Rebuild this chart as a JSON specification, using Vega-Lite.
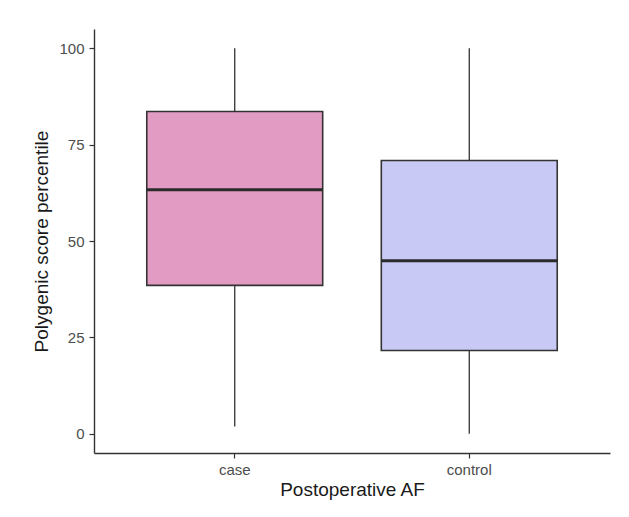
{
  "$schema": "https://vega.github.io/schema/vega-lite/v6.json",
  "autosize": "none",
  "width": 516,
  "height": 424,
  "padding": {"left": 94, "top": 29, "right": 19, "bottom": 64},
  "background": "white",
  "config": {
    "view": {"stroke": null},
    "font": "Liberation Sans",
    "axis": {
      "grid": false,
      "domainColor": "#333333",
      "domainWidth": 1.4,
      "tickColor": "#333333",
      "tickWidth": 1.2,
      "tickSize": 5,
      "labelColor": "#4D4D4D",
      "labelFont": "Liberation Sans",
      "labelFontSize": 15,
      "titleFont": "Liberation Sans",
      "titleFontSize": 19,
      "titleFontWeight": "normal",
      "titleColor": "#1A1A1A"
    }
  },
  "data": {
    "values": [
      {"group": "case", "lower": 1.9, "q1": 38.5, "median": 63.3, "q3": 83.6, "upper": 100},
      {"group": "control", "lower": 0, "q1": 21.6, "median": 44.9, "q3": 70.9, "upper": 100}
    ]
  },
  "encoding": {
    "x": {
      "field": "group",
      "type": "nominal",
      "title": "Postoperative AF",
      "scale": {"paddingInner": 0.25, "paddingOuter": 0.225},
      "axis": {"labelAngle": 0, "labelPadding": 4, "titlePadding": 3}
    }
  },
  "layer": [
    {
      "mark": {"type": "rule", "color": "#333333", "strokeWidth": 1.3},
      "encoding": {
        "y": {
          "field": "lower",
          "type": "quantitative",
          "title": "Polygenic score percentile",
          "scale": {"domain": [-5, 105], "nice": false, "zero": false},
          "axis": {"values": [0, 25, 50, 75, 100], "labelPadding": 5, "titlePadding": 7}
        },
        "y2": {"field": "upper"}
      }
    },
    {
      "mark": {"type": "bar", "stroke": "#333333", "strokeWidth": 1.6},
      "encoding": {
        "y": {"field": "q1", "type": "quantitative"},
        "y2": {"field": "q3"},
        "color": {
          "field": "group",
          "type": "nominal",
          "scale": {"domain": ["case", "control"], "range": ["#E29BC3", "#C8CAF5"]},
          "legend": null
        }
      }
    },
    {
      "mark": {"type": "tick", "color": "#2B2B2B", "thickness": 3, "opacity": 1},
      "encoding": {
        "y": {"field": "median", "type": "quantitative"},
        "size": {"value": 176}
      }
    }
  ]
}
